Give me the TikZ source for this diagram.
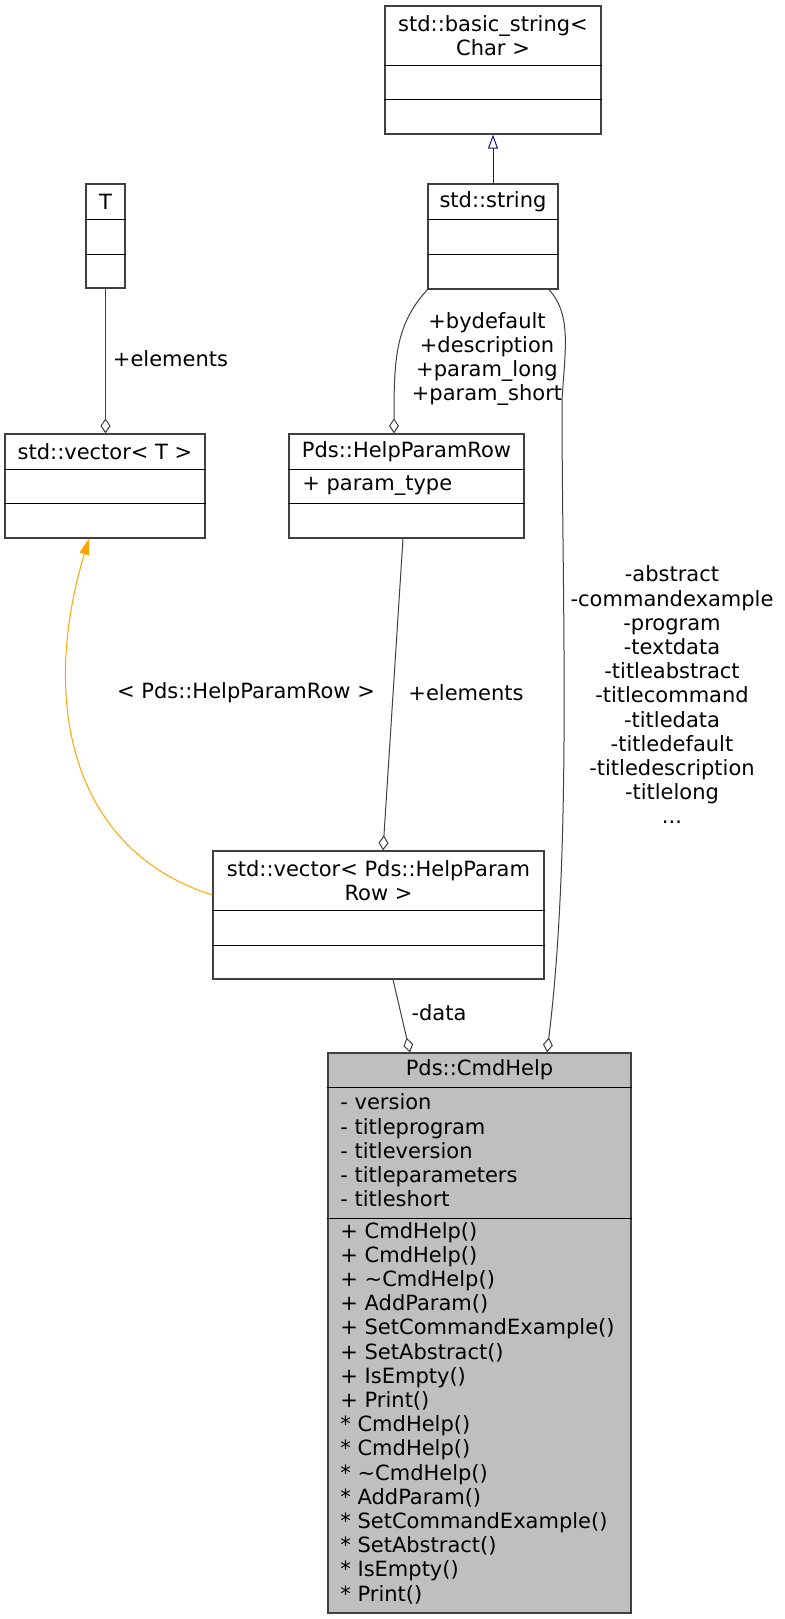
\documentclass[tikz,border=0pt]{standalone}
\usepackage{fontspec}
\setmainfont{DejaVu Sans}
\usepackage{xcolor}
\usetikzlibrary{arrows.meta}

\definecolor{edgegray}{HTML}{404040}
\definecolor{cmdgray}{HTML}{BFBFBF}
\definecolor{inhblue}{HTML}{191970}
\definecolor{tplorange}{HTML}{FFA500}

\begin{document}
\begin{tikzpicture}[x=0.5pt, y=-0.5pt,
    every node/.style={font=\fontsize{10.5}{12.1}\selectfont, inner sep=0pt},
    box/.style={draw=black!75, line width=0.6pt, fill=white},
    sep/.style={black, line width=0.5pt},
    lbl/.style={align=center},
    aggr/.style={edgegray, line width=0.5pt, -{Diamond[open, length=7.5pt, width=5pt]}},
    inherit/.style={inhblue, line width=0.5pt, -{Triangle[open, length=7pt, width=5pt]}},
    tmpl/.style={tplorange, line width=0.5pt, -{Triangle[length=8pt, width=5pt]}}]
    \path[use as bounding box, fill=white] (0,0) rectangle (784,1619);

    % std::basic_string< Char >
    \node[box, minimum width=108pt, minimum height=64pt] (bstr) at (493,70) {};
    \draw[sep] (bstr.west |- 0,65) -- (bstr.east |- 0,65);
    \draw[sep] (bstr.west |- 0,99) -- (bstr.east |- 0,99);
    \node[align=center] (bstrname) at (493,35.5) {std::basic\_string<\\Char >};

    % std::string
    \node[box, minimum width=65pt, minimum height=52.5pt] (str) at (493,236.5) {};
    \draw[sep] (str.west |- 0,219) -- (str.east |- 0,219);
    \draw[sep] (str.west |- 0,254) -- (str.east |- 0,254);
    \node (strname) at (493,201.5) {std::string};

    % T
    \node[box, minimum width=19.5pt, minimum height=52pt] (T) at (105.5,236) {};
    \draw[sep] (T.west |- 0,219) -- (T.east |- 0,219);
    \draw[sep] (T.west |- 0,254) -- (T.east |- 0,254);
    \node (Tname) at (105.5,201.5) {T};

    % std::vector< T >
    \node[box, minimum width=100pt, minimum height=52pt] (vecT) at (105,486) {};
    \draw[sep] (vecT.west |- 0,469) -- (vecT.east |- 0,469);
    \draw[sep] (vecT.west |- 0,503) -- (vecT.east |- 0,503);
    \node (vecTname) at (105,451.5) {std::vector< T >};

    % Pds::HelpParamRow
    \node[box, minimum width=117.5pt, minimum height=52pt] (hpr) at (406.5,486) {};
    \draw[sep] (hpr.west |- 0,469) -- (hpr.east |- 0,469);
    \draw[sep] (hpr.west |- 0,503) -- (hpr.east |- 0,503);
    \node (hprname) at (406.5,451.5) {Pds::HelpParamRow};
    \node[anchor=west] (hprattr) at (302,486) {+ param\_type};

    % std::vector< Pds::HelpParamRow >
    \node[box, minimum width=165.5pt, minimum height=64pt] (vhpr) at (378.5,915) {};
    \draw[sep] (vhpr.west |- 0,910) -- (vhpr.east |- 0,910);
    \draw[sep] (vhpr.west |- 0,945) -- (vhpr.east |- 0,945);
    \node[align=center] (vhprname) at (378.5,880.5) {std::vector< Pds::HelpParam\\Row >};

    % Pds::CmdHelp
    \node[box, fill=cmdgray, minimum width=151.5pt, minimum height=280pt] (cmd) at (479.5,1333) {};
    \draw[sep] (cmd.west |- 0,1087) -- (cmd.east |- 0,1087);
    \draw[sep] (cmd.west |- 0,1218) -- (cmd.east |- 0,1218);
    \node (cmdname) at (479.5,1070) {Pds::CmdHelp};
    \node[anchor=west, align=left] (cmdattr) at (340,1150.5) {- version\\- titleprogram\\- titleversion\\- titleparameters\\- titleshort};
    \node[anchor=west, align=left] (cmdmeth) at (340,1413) {+ CmdHelp()\\+ CmdHelp()\\+ \textasciitilde CmdHelp()\\+ AddParam()\\+ SetCommandExample()\\+ SetAbstract()\\+ IsEmpty()\\+ Print()\\* CmdHelp()\\* CmdHelp()\\* \textasciitilde CmdHelp()\\* AddParam()\\* SetCommandExample()\\* SetAbstract()\\* IsEmpty()\\* Print()};

    % connectors
    \draw[inherit] (str.north) -- (bstr.south);
    \draw[aggr] (T.south) -- (T.south |- vecT.north);
    \draw[aggr] (str.south west) .. controls (395,325) and (394,360) .. (394,0 |- hpr.north);
    \draw[aggr] (549,0 |- str.south) .. controls (572,315) and (565,350) .. (562,400)
        .. controls (562,600) and (572,850) .. (547,0 |- cmd.north);
    \draw[aggr] (403,0 |- hpr.south) -- (383,0 |- vhpr.north);
    \draw[aggr] (393,0 |- vhpr.south) -- (410,0 |- cmd.north);
    \draw[tmpl] (vhpr.west |- 0,895) .. controls (70,850) and (40,700) .. (89,0 |- vecT.south);

    % labels
    \node[lbl] (lelemT) at (170.5,359) {+elements};
    \node[lbl] (lparam) at (487,359) {+bydefault\\+description\\+param\_long\\+param\_short};
    \node[lbl] (lstr) at (672,695) {-abstract\\-commandexample\\-program\\-textdata\\-titleabstract\\-titlecommand\\-titledata\\-titledefault\\-titledescription\\-titlelong\\...};
    \node[lbl] (ltmpl) at (246,693) {< Pds::HelpParamRow >};
    \node[lbl] (lelemH) at (466,693) {+elements};
    \node[lbl] (ldata) at (439,1013) {-data};
\end{tikzpicture}
\end{document}
